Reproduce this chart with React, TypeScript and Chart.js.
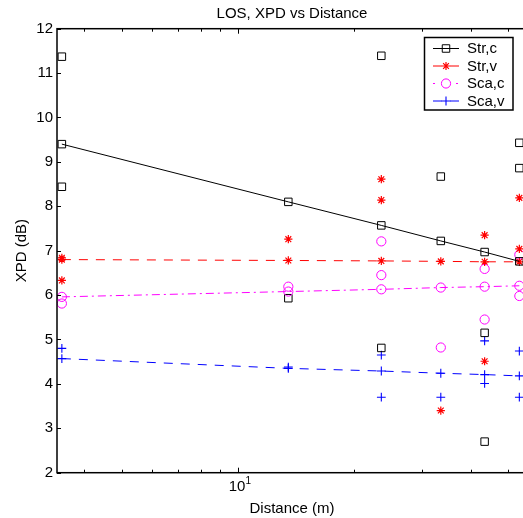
import { useEffect, useRef } from "react";
import { Chart, registerables } from "chart.js";

Chart.register(...registerables);

// ---------- data ----------
const distances = [3.5, 13.5, 23.5, 33.5, 43.5, 53.5];
const xTickValues = [4, 5, 6, 7, 8, 9, 10, 20, 30, 40, 50];
const xMajorTicks = [10];
const xMajorBase = "10";
const xMajorExponent = "1";
const seriesNames = ["Str,c", "Str,v", "Sca,c", "Sca,v"];

// fitted lines (values at each distance)
const strCFit = [9.4, 8.1, 7.57, 7.22, 6.97, 6.76];
const strVFit = [6.8, 6.78, 6.77, 6.76, 6.75, 6.75];
const scaCFit = [5.96, 6.08, 6.13, 6.17, 6.19, 6.21];
const scaVFit = [4.57, 4.35, 4.29, 4.24, 4.21, 4.18];

// measured points (per distance)
const strCPoints = [[11.37, 8.44], [5.93], [11.39, 4.81], [8.67], [5.15, 2.7], [9.43, 8.86]];
const strVPoints = [[6.84, 6.33], [7.26], [8.61, 8.14], [3.4], [7.35, 4.51], [8.19, 7.04]];
const scaCPoints = [[5.81], [6.19], [7.21, 6.45], [4.82], [6.59, 5.45], [6.91, 5.98]];
const scaVPoints = [[4.8], [4.38], [4.65, 3.7], [3.7], [4.97, 4.01], [4.74, 3.7]];

// ---------- styles ----------
const FONT = '"Liberation Sans", Arial, Helvetica, sans-serif';
const seriesColors = ["#000000", "#ff0000", "#ff00ff", "#0000ff"];
const seriesMarkers = ["rect", "star", "circle", "cross"];
const seriesRadius = [5.3, 4.1, 4.6, 4.4];
const seriesBorder = [1, 1.2, 1, 1.1];
const seriesDash: number[][] = [[], [9, 8], [8, 4, 2, 4], [9, 8]];
const legendDash: number[][] = [[], [9, 8], [2, 21], [9, 8]];

function drawMarker(ctx: CanvasRenderingContext2D, style: string, x: number, y: number, r: number, color: string, lw: number) {
  ctx.save();
  ctx.strokeStyle = color;
  ctx.lineWidth = lw;
  ctx.setLineDash([]);
  ctx.beginPath();
  if (style === "rect") {
    const h = r * Math.SQRT1_2;
    ctx.rect(x - h, y - h, 2 * h, 2 * h);
  } else if (style === "circle") {
    ctx.arc(x, y, r, 0, Math.PI * 2);
  } else if (style === "cross") {
    ctx.moveTo(x - r, y);
    ctx.lineTo(x + r, y);
    ctx.moveTo(x, y - r);
    ctx.lineTo(x, y + r);
  } else {
    for (let k = 0; k < 4; k++) {
      const a = (k * Math.PI) / 4;
      ctx.moveTo(x - Math.cos(a) * r, y - Math.sin(a) * r);
      ctx.lineTo(x + Math.cos(a) * r, y + Math.sin(a) * r);
    }
  }
  ctx.stroke();
  ctx.restore();
}

const framePlugin = {
  id: "matlabFrame",
  afterDraw(chart: any) {
    const { ctx, chartArea: a, scales } = chart;
    const xs = scales.x;
    const ys = scales.y;
    ctx.save();
    ctx.strokeStyle = "#000";
    ctx.lineWidth = 1;
    ctx.setLineDash([]);
    ctx.beginPath();
    for (const v of xTickValues) {
      const px = Math.round(xs.getPixelForValue(v)) + 0.5;
      const len = xMajorTicks.includes(v) ? 5 : 3;
      ctx.moveTo(px, a.bottom);
      ctx.lineTo(px, a.bottom - len);
      ctx.moveTo(px, a.top);
      ctx.lineTo(px, a.top + len);
    }
    for (const t of ys.ticks) {
      const py = Math.round(ys.getPixelForValue(t.value)) + 0.5;
      ctx.moveTo(a.left, py);
      ctx.lineTo(a.left + 4, py);
      ctx.moveTo(a.right, py);
      ctx.lineTo(a.right - 4, py);
    }
    ctx.stroke();
    ctx.lineWidth = 1.5;
    ctx.strokeRect(a.left, a.top, a.right - a.left, a.bottom - a.top);

    // major x tick labels with superscript exponent
    ctx.fillStyle = "#000";
    ctx.textBaseline = "alphabetic";
    for (const v of xMajorTicks) {
      const px = xs.getPixelForValue(v);
      ctx.font = `15px ${FONT}`;
      ctx.textAlign = "center";
      ctx.fillText(xMajorBase, px - 1, a.bottom + 18.5);
      ctx.font = `10px ${FONT}`;
      ctx.textAlign = "left";
      ctx.fillText(xMajorExponent, px + 7.5, a.bottom + 11);
    }

    // legend
    const bx = 424.5, by = 37.5, bw = 88.5, bh = 72.5;
    ctx.fillStyle = "#fff";
    ctx.fillRect(bx, by, bw, bh);
    ctx.lineWidth = 1.5;
    ctx.strokeStyle = "#000";
    ctx.strokeRect(bx, by, bw, bh);
    const rows = [48.5, 66, 83.5, 101];
    ctx.font = `15px ${FONT}`;
    ctx.textBaseline = "middle";
    ctx.textAlign = "left";
    for (let i = 0; i < seriesNames.length; i++) {
      const y = rows[i];
      ctx.save();
      ctx.strokeStyle = seriesColors[i];
      ctx.lineWidth = 1;
      ctx.setLineDash(legendDash[i]);
      ctx.beginPath();
      ctx.moveTo(433, y);
      ctx.lineTo(459, y);
      ctx.stroke();
      ctx.restore();
      drawMarker(ctx, seriesMarkers[i], 446, y, seriesRadius[i], seriesColors[i], seriesBorder[i]);
      ctx.fillStyle = "#000";
      ctx.fillText(seriesNames[i], 467, y + 0.5);
    }
    ctx.restore();
  },
};

export default function App() {
  const ref = useRef<HTMLCanvasElement | null>(null);

  useEffect(() => {
    const canvas = ref.current;
    if (!canvas) return;
    Chart.defaults.color = "#000";
    Chart.defaults.font.family = FONT;

    const fits = [strCFit, strVFit, scaCFit, scaVFit];
    const pts = [strCPoints, strVPoints, scaCPoints, scaVPoints];
    const datasets: any[] = [];
    for (let i = 0; i < 4; i++) {
      datasets.push({
        label: seriesNames[i] + " fit",
        data: distances.map((d, k) => ({ x: d, y: fits[i][k] })),
        showLine: true,
        borderColor: seriesColors[i],
        backgroundColor: "transparent",
        borderWidth: 1,
        borderDash: seriesDash[i],
        pointStyle: seriesMarkers[i],
        pointRadius: seriesRadius[i],
        pointBorderWidth: seriesBorder[i],
        pointBorderColor: seriesColors[i],
        pointBackgroundColor: "transparent",
      });
    }
    for (let i = 0; i < 4; i++) {
      const data: { x: number; y: number }[] = [];
      pts[i].forEach((col, k) => col.forEach((v) => data.push({ x: distances[k], y: v })));
      datasets.push({
        label: seriesNames[i],
        data,
        showLine: false,
        borderColor: seriesColors[i],
        backgroundColor: "transparent",
        pointStyle: seriesMarkers[i],
        pointRadius: seriesRadius[i],
        pointBorderWidth: seriesBorder[i],
        pointBorderColor: seriesColors[i],
        pointBackgroundColor: "transparent",
      });
    }

    const chart = new Chart(canvas, {
      type: "scatter",
      data: { datasets },
      options: {
        responsive: false,
        animation: false,
        events: [],
        layout: { padding: { left: 0, right: 13, top: 0, bottom: 0 } },
        plugins: {
          legend: { display: false },
          tooltip: { enabled: false },
          title: {
            display: true,
            text: "LOS, XPD vs Distance",
            fullSize: false,
            color: "#000",
            font: { size: 15, weight: "normal", family: FONT },
            padding: { top: 5, bottom: 5.7 },
          },
        },
        scales: {
          x: {
            type: "logarithmic",
            min: 3.4,
            max: 56,
            afterBuildTicks: (s: any) => {
              s.ticks = xTickValues.map((v) => ({ value: v, major: xMajorTicks.includes(v) }));
            },
            afterFit: (s: any) => {
              s.height = 45.3;
            },
            grid: { display: false, drawTicks: false },
            border: { display: false },
            ticks: {
              autoSkip: false,
              maxRotation: 0,
              padding: 6,
              color: "#000",
              font: { size: 15, family: FONT },
              callback: () => "",
            },
            title: {
              display: true,
              text: "Distance (m)",
              color: "#000",
              font: { size: 15, family: FONT },
              padding: { top: 0, bottom: 0 },
            },
          },
          y: {
            type: "linear",
            min: 2,
            max: 12,
            afterFit: (s: any) => {
              s.width = 57;
            },
            grid: { display: false, drawTicks: false },
            border: { display: false },
            ticks: {
              stepSize: 1,
              padding: 4,
              color: "#000",
              font: { size: 15, family: FONT },
            },
            title: {
              display: true,
              text: "XPD (dB)",
              color: "#000",
              font: { size: 15, family: FONT },
              padding: { top: 13, bottom: 0 },
            },
          },
        },
      },
      plugins: [framePlugin],
    } as any);

    return () => chart.destroy();
  }, []);

  return (
    <div style={{ position: "fixed", left: 0, top: 0, width: 523, height: 518, overflow: "hidden", background: "#fff" }}>
      <canvas ref={ref} width={540} height={518} style={{ display: "block", width: 540, height: 518 }} />
    </div>
  );
}
